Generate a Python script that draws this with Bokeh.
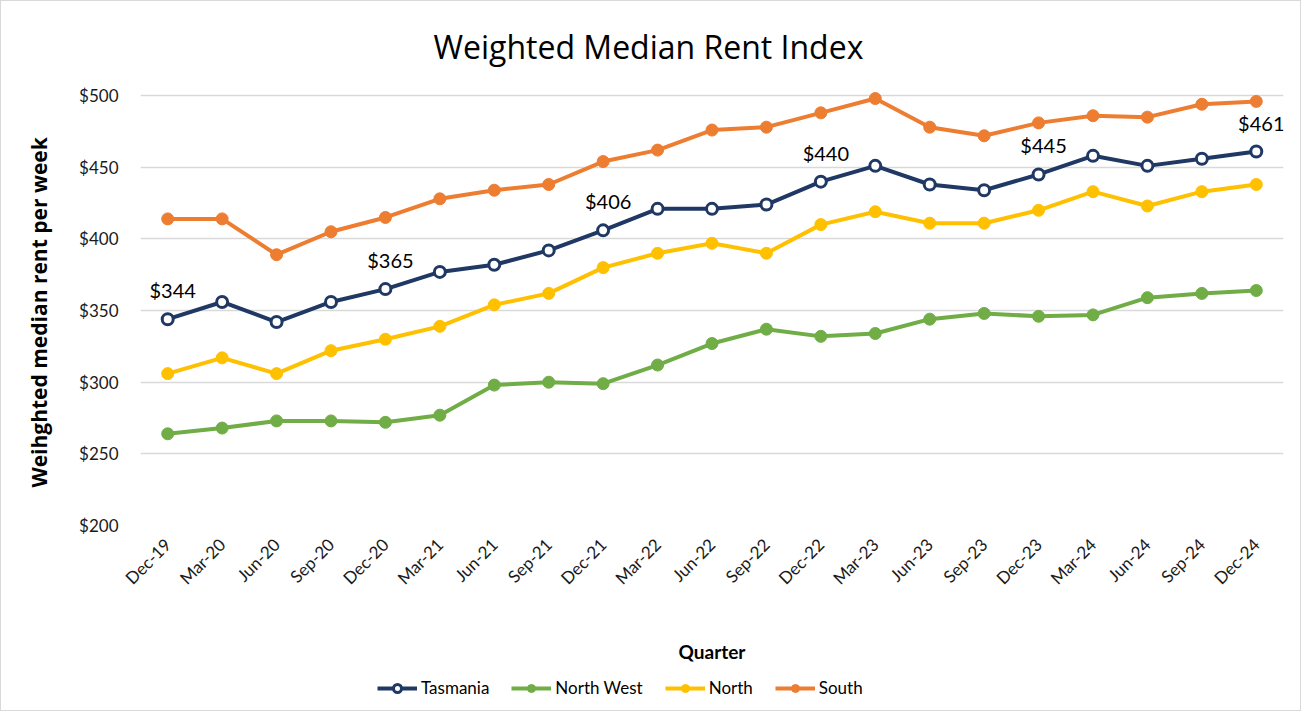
from math import pi
from bokeh.plotting import figure
from bokeh.layouts import column
from bokeh.models import (Range1d, FactorRange, FixedTicker, NumeralTickFormatter,
                          Legend, LegendItem, ColumnDataSource)
from bokeh.embed import file_html
from bokeh.resources import INLINE
from bokeh.core.properties import value

quarters = ["Dec-19", "Mar-20", "Jun-20", "Sep-20", "Dec-20", "Mar-21", "Jun-21",
            "Sep-21", "Dec-21", "Mar-22", "Jun-22", "Sep-22", "Dec-22", "Mar-23",
            "Jun-23", "Sep-23", "Dec-23", "Mar-24", "Jun-24", "Sep-24", "Dec-24"]
tasmania = [344, 356, 342, 356, 365, 377, 382, 392, 406, 421, 421, 424, 440, 451,
            438, 434, 445, 458, 451, 456, 461]
north_west = [264, 268, 273, 273, 272, 277, 298, 300, 299, 312, 327, 337, 332, 334,
              344, 348, 346, 347, 359, 362, 364]
north = [306, 317, 306, 322, 330, 339, 354, 362, 380, 390, 397, 390, 410, 419,
         411, 411, 420, 433, 423, 433, 438]
south = [414, 414, 389, 405, 415, 428, 434, 438, 454, 462, 476, 478, 488, 498,
         478, 472, 481, 486, 485, 494, 496]
labelled_quarters = ["Dec-19", "Dec-20", "Dec-21", "Dec-22", "Dec-23", "Dec-24"]
y_ticks = [200, 250, 300, 350, 400, 450, 500]

FONT = "Lato"
FONT2 = "Open Sans"
TXT = "#1a1a1a"

p = figure(frame_width=1143, frame_height=437,
           x_range=FactorRange(*quarters, range_padding=0),
           y_range=Range1d(200, 505),
           output_backend="svg", toolbar_location=None,
           min_border_left=139, min_border_right=17,
           min_border_top=87, min_border_bottom=145)
p.outline_line_color = None
p.xgrid.grid_line_color = None
p.ygrid.grid_line_color = "#d9d9d9"
p.ygrid.grid_line_width = 1.5
p.ygrid.ticker = FixedTicker(ticks=y_ticks)

p.title.text = "Weighted Median Rent Index"
p.title.align = "left"
p.title.offset = 293
p.title.text_font = FONT2
p.title.text_font_size = "32px"
p.title.text_font_style = "normal"
p.title.text_color = "#000000"
p.title.standoff = 41

p.yaxis.ticker = FixedTicker(ticks=y_ticks)
p.yaxis.formatter = NumeralTickFormatter(format="$0")
for ax in (p.xaxis[0], p.yaxis[0]):
    ax.axis_line_color = None
    ax.major_tick_line_color = None
    ax.minor_tick_line_color = None
    ax.major_label_text_font = FONT
    ax.major_label_text_color = TXT
p.yaxis.major_label_text_font_size = "17px"
p.yaxis.major_label_standoff = 16
p.yaxis.axis_label = "Weihghted  median  rent per week"
p.yaxis.axis_label_text_font = FONT2
p.yaxis.axis_label_text_font_style = "bold"
p.yaxis.axis_label_text_font_size = "21px"
p.yaxis.axis_label_text_color = "#000000"
p.yaxis.axis_label_standoff = 23
p.xaxis.major_label_orientation = pi / 4
p.xaxis.major_label_text_font_size = "17px"
p.xaxis.major_label_standoff = 10
p.xaxis.axis_label = "Quarter"
p.xaxis.axis_label_text_font = FONT
p.xaxis.axis_label_text_font_style = "bold"
p.xaxis.axis_label_text_font_size = "19px"
p.xaxis.axis_label_text_color = "#000000"
p.xaxis.axis_label_standoff = 41

# legend strip below the chart (its own renderers sit outside its visible range)
lf = figure(width=1299, height=40, x_range=p.x_range, y_range=Range1d(0, 1),
            output_backend="svg", toolbar_location=None,
            x_axis_location=None, y_axis_location=None, min_border=0)
lf.outline_line_color = None
lf.grid.visible = False

series = [
    ("Tasmania", tasmania, "#203864", "white"),
    ("North West", north_west, "#70ad47", None),
    ("North", north, "#ffc000", None),
    ("South", south, "#ed7d31", None),
]
items = []
for name, vals, color, fill in series:
    src = ColumnDataSource(dict(x=quarters, y=vals))
    p.line("x", "y", source=src, line_color=color, line_width=4)
    lr = lf.line("x", "y", source=src, line_color=color, line_width=4)
    if fill == "white":
        kw = dict(size=11, fill_color="white", line_color=color, line_width=3)
    else:
        kw = dict(size=12, fill_color=color, line_color=color, line_width=1)
    p.scatter("x", "y", source=src, **kw)
    sr = lf.scatter("x", "y", source=src, **kw)
    items.append(LegendItem(label=name, renderers=[lr, sr]))

lab_vals = [tasmania[quarters.index(q)] for q in labelled_quarters]
lab_src = ColumnDataSource(dict(x=labelled_quarters, y=lab_vals,
                                t=["$%d" % v for v in lab_vals]))
p.text("x", "y", text="t", source=lab_src, text_align="center",
       text_baseline="alphabetic", x_offset=5, y_offset=-29,
       text_font=value(FONT), text_font_size="20px", text_color="#000000")

legend = Legend(items=items, orientation="horizontal", location=(237, 12),
                margin=0, padding=0, spacing=22, glyph_width=40, glyph_height=20,
                label_standoff=4, label_text_font=FONT, label_text_font_size="17px",
                label_text_color="#000000", border_line_color=None,
                background_fill_alpha=0)
lf.add_layout(legend)

page = column(p, lf, spacing=0, styles={"border": "1px solid #d9d9d9"})
open("out.html", "w").write(file_html(page, INLINE))
